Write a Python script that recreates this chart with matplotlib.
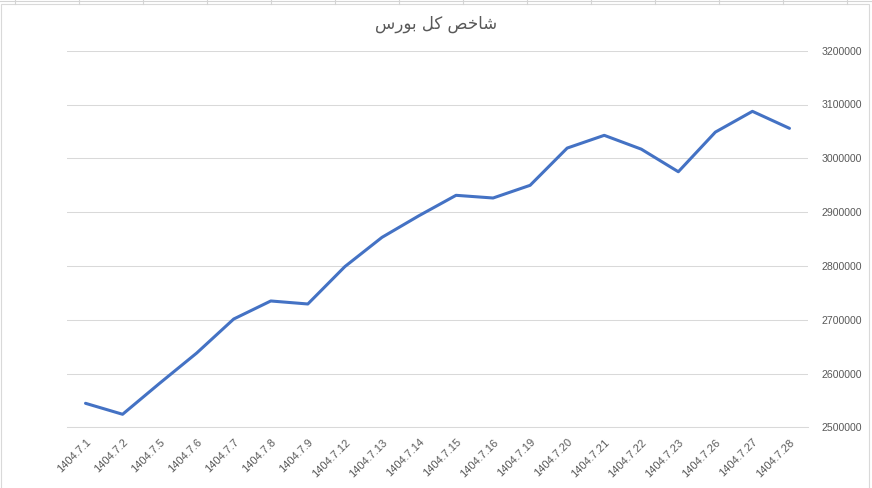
import matplotlib
matplotlib.use("Agg")
import matplotlib.pyplot as plt
from matplotlib.lines import Line2D
from matplotlib.patches import Rectangle

# ---- data ----
categories = ["1404.7.1", "1404.7.2", "1404.7.5", "1404.7.6", "1404.7.7",
              "1404.7.8", "1404.7.9", "1404.7.12", "1404.7.13", "1404.7.14",
              "1404.7.15", "1404.7.16", "1404.7.19", "1404.7.20", "1404.7.21",
              "1404.7.22", "1404.7.23", "1404.7.26", "1404.7.27", "1404.7.28"]
values = [2544600, 2524200, 2581800, 2638000, 2701300,
          2734800, 2729200, 2798700, 2853000, 2893300,
          2931200, 2926200, 2949800, 3019000, 3042700,
          3017000, 2975000, 3048700, 3087300, 3055700]
y_ticks = [2500000, 2600000, 2700000, 2800000, 2900000, 3000000, 3100000, 3200000]
title = "شاخص کل بورس"


# minimal Arabic shaping (presentation forms) + visual reordering
FORMS = {  # iso, fin, ini, med
    "\u0627": ("\uFE8D", "\uFE8E", None, None),
    "\u0628": ("\uFE8F", "\uFE90", "\uFE91", "\uFE92"),
    "\u062E": ("\uFEA5", "\uFEA6", "\uFEA7", "\uFEA8"),
    "\u0631": ("\uFEAD", "\uFEAE", None, None),
    "\u0633": ("\uFEB1", "\uFEB2", "\uFEB3", "\uFEB4"),
    "\u0634": ("\uFEB5", "\uFEB6", "\uFEB7", "\uFEB8"),
    "\u0635": ("\uFEB9", "\uFEBA", "\uFEBB", "\uFEBC"),
    "\u0644": ("\uFEDD", "\uFEDE", "\uFEDF", "\uFEE0"),
    "\u0648": ("\uFEED", "\uFEEE", None, None),
    "\u06A9": ("\uFB8E", "\uFB8F", "\uFB90", "\uFB91"),
}


def shape(text):
    out = []
    n = len(text)
    for i, ch in enumerate(text):
        if ch not in FORMS:
            out.append(ch)
            continue
        f = FORMS[ch]
        prev = text[i - 1] if i > 0 else None
        nxt = text[i + 1] if i + 1 < n else None
        join_prev = prev in FORMS and FORMS[prev][2] is not None
        join_next = nxt in FORMS and f[2] is not None
        if join_prev and join_next:
            out.append(f[3])
        elif join_prev:
            out.append(f[1])
        elif join_next:
            out.append(f[2])
        else:
            out.append(f[0])
    return "".join(out)[::-1]


W, H = 872, 488
fig = plt.figure(figsize=(W / 100, H / 100), dpi=100)
fig.patch.set_facecolor("white")

# spreadsheet cell lines above the chart and chart border
fig.add_artist(Line2D([0, 1], [1 - 0.8 / H, 1 - 0.8 / H], transform=fig.transFigure,
                      color="#D4D4D4", lw=0.8))
for xc in range(15, W, 64):
    fig.add_artist(Line2D([xc / W, xc / W], [1 - 3.5 / H, 1], transform=fig.transFigure,
                          color="#D4D4D4", lw=0.8))
fig.add_artist(Rectangle((1 / W, -0.01), (869 - 1) / W, 1 - 3.5 / H + 0.01,
                         transform=fig.transFigure, fill=False,
                         edgecolor="#D9D9D9", lw=0.8))

left, right = 67 / W, 808 / W
bottom, top = 1 - 427.3 / H, 1 - 50.7 / H
ax = fig.add_axes([left, bottom, right - left, top - bottom])
ax.set_facecolor("none")

x = list(range(len(categories)))
ax.plot(x, values, color="#4472C4", lw=2.2, solid_joinstyle="round",
        solid_capstyle="round", zorder=3)

ax.set_xlim(-0.5, len(categories) - 0.5)
ax.set_ylim(y_ticks[0], y_ticks[-1])
ax.set_yticks(y_ticks)
ax.set_yticklabels([str(v) for v in y_ticks])
ax.yaxis.tick_right()
ax.grid(axis="y", color="#D9D9D9", lw=0.75)
ax.set_axisbelow(True)
for s in ax.spines.values():
    s.set_visible(False)
ax.spines["bottom"].set_visible(True)
ax.spines["bottom"].set_color("#D9D9D9")
ax.spines["bottom"].set_linewidth(0.75)

ax.set_xticks(x)
ax.set_xticklabels(categories, rotation=45, ha="right", rotation_mode="anchor")
ax.tick_params(axis="both", length=0, colors="#595959")
ax.tick_params(axis="y", pad=10, labelsize=7.6)
ax.tick_params(axis="x", pad=7, labelsize=8)
for lab in ax.get_xticklabels() + ax.get_yticklabels():
    lab.set_fontfamily(["Liberation Sans", "DejaVu Sans"])

fig.text(436 / W, 1 - 24 / H, shape(title), ha="center", va="center",
         fontsize=12, color="#595959", family=["DejaVu Sans"])

fig.savefig("out.png", dpi=100, facecolor="white")
